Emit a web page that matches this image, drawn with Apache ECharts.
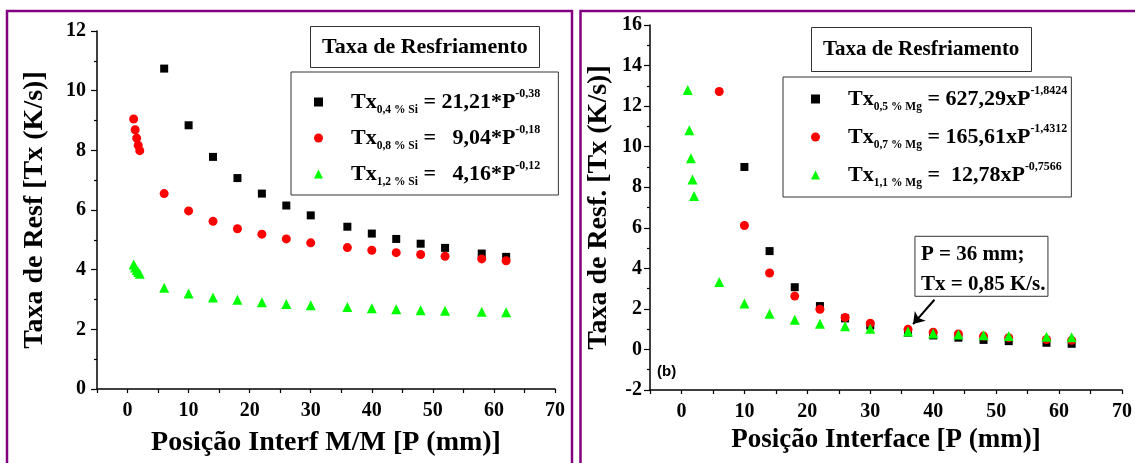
<!DOCTYPE html>
<html>
<head>
<meta charset="utf-8">
<script src="https://cdn.jsdelivr.net/npm/echarts@6/dist/echarts.min.js"></script>
<style>
    html, body { margin: 0; padding: 0; background: #fff; }
    #mainChart { width: 1135px; height: 463px; }
</style>
</head>
<body>
<div id="mainChart"></div>
<script>
// ---- painel (a): ligas Al-Si ----
var xSi04 = [6, 10, 14, 18, 22, 26, 30, 36, 40, 44, 48, 52, 58, 62];
var ySi04 = [10.74, 8.84, 7.78, 7.07, 6.55, 6.15, 5.82, 5.44, 5.21, 5.03, 4.87, 4.73, 4.54, 4.43];
var xSi08 = [1, 1.25, 1.5, 1.75, 2, 6, 10, 14, 18, 22, 26, 30, 36, 40, 44, 48, 52, 58, 62];
var ySi08 = [9.05, 8.69, 8.41, 8.17, 7.99, 6.55, 5.97, 5.62, 5.37, 5.19, 5.03, 4.90, 4.74, 4.65, 4.57, 4.51, 4.45, 4.36, 4.30];
var xSi12 = [1, 1.25, 1.5, 1.75, 2, 6, 10, 14, 18, 22, 26, 30, 36, 40, 44, 48, 52, 58, 62];
var ySi12 = [4.17, 4.07, 3.99, 3.92, 3.86, 3.39, 3.20, 3.07, 2.99, 2.91, 2.85, 2.81, 2.75, 2.71, 2.67, 2.64, 2.62, 2.59, 2.57];

// ---- painel (b): ligas Al-Mg ----
var xMg05 = [10, 14, 18, 22, 26, 30, 36, 40, 44, 48, 52, 58, 62];
var yMg05 = [9.0, 4.85, 3.07, 2.14, 1.53, 1.18, 0.83, 0.69, 0.58, 0.47, 0.41, 0.33, 0.28];
var xMg07 = [6, 10, 14, 18, 22, 26, 30, 36, 40, 44, 48, 52, 58, 62];
var yMg07 = [12.72, 6.11, 3.77, 2.63, 1.98, 1.58, 1.29, 0.99, 0.85, 0.76, 0.66, 0.58, 0.49, 0.45];
var xMg11 = [1, 1.25, 1.5, 1.75, 2, 6, 10, 14, 18, 22, 26, 30, 36, 40, 44, 48, 52, 58, 62];
var yMg11 = [12.79, 10.81, 9.43, 8.38, 7.57, 3.32, 2.26, 1.76, 1.47, 1.27, 1.14, 1.02, 0.89, 0.79, 0.74, 0.70, 0.66, 0.62, 0.60];

// legendas (equações)
var namesSi = ['Tx 0,4 % Si', 'Tx 0,8 % Si', 'Tx 1,2 % Si'];
var subSi = ['0,4 % Si', '0,8 % Si', '1,2 % Si'];
var eqSi = [' = 21,21*P', ' =   9,04*P', ' =   4,16*P'];
var expSi = ['-0,38', '-0,18', '-0,12'];
var namesMg = ['Tx 0,5 % Mg', 'Tx 0,7 % Mg', 'Tx 1,1 % Mg'];
var subMg = ['0,5 % Mg', '0,7 % Mg', '1,1 % Mg'];
var eqMg = [' = 627,29xP', ' = 165,61xP', ' =  12,78xP'];
var expMg = ['-1,8424', '-1,4312', '-0,7566'];
var annotLines = ['P = 36 mm;', 'Tx = 0,85 K/s.'];

var serif = "'Liberation Serif', 'Times New Roman', serif";

function pairs(xs, ys) {
    return xs.map(function (x, i) { return [x, ys[i]]; });
}

function eqFormatter(names, subs, eqs, exps) {
    return function (name) {
        var i = names.indexOf(name);
        return '{gap|}{t|Tx}{sub|' + subs[i] + '}{t|' + eqs[i] + '}{sup|' + exps[i] + '}';
    };
}

var eqRich = {
    gap: { width: 23 },
    t: { fontFamily: serif, fontWeight: 'bold', fontSize: 22, color: '#000', lineHeight: 28 },
    sub: { fontFamily: serif, fontWeight: 'bold', fontSize: 11.5, color: '#000', lineHeight: 12, verticalAlign: 'bottom' },
    sup: { fontFamily: serif, fontWeight: 'bold', fontSize: 12, color: '#000', lineHeight: 12, verticalAlign: 'top' }
};

function xAxisOf(idx, name, gap, nameSize) {
    return {
        type: 'value', gridIndex: idx, min: -5, max: 70, interval: 5,
        name: name, nameLocation: 'middle', nameGap: gap,
        nameTextStyle: { fontFamily: serif, fontWeight: 'bold', fontSize: nameSize, color: '#000' },
        splitLine: { show: false },
        axisLine: { onZero: false, lineStyle: { color: '#000', width: 1.5 } },
        axisTick: { length: 4, lineStyle: { color: '#000', width: 1.2 } },
        axisLabel: {
            margin: 12, fontFamily: serif, fontWeight: 'bold', fontSize: 20, color: '#000',
            formatter: function (v) { return v % 10 === 0 ? String(v) : ''; }
        }
    };
}

function yAxisOf(idx, name, gap, min, max, margin) {
    return {
        type: 'value', gridIndex: idx, min: min, max: max, interval: 2,
        name: name, nameLocation: 'middle', nameGap: gap,
        nameTextStyle: { fontFamily: serif, fontWeight: 'bold', fontSize: 28, color: '#000' },
        splitLine: { show: false },
        axisLine: { onZero: false, lineStyle: { color: '#000', width: 1.5 } },
        axisTick: { length: 6, lineStyle: { color: '#000', width: 1.2 } },
        minorTick: { show: true, splitNumber: 2, length: 3, lineStyle: { color: '#000', width: 1.2 } },
        axisLabel: { margin: margin, fontFamily: serif, fontWeight: 'bold', fontSize: 20, color: '#000' }
    };
}

function scatter(name, idx, data, symbol, size, color) {
    return {
        name: name, type: 'scatter', xAxisIndex: idx, yAxisIndex: idx,
        data: data, symbol: symbol, symbolSize: size,
        itemStyle: { color: color, opacity: 1 }
    };
}

var myChart = echarts.init(document.getElementById('mainChart'));

var option = {
    backgroundColor: '#fff',
    animation: false,
    title: [
        {
            text: 'Taxa de Resfriamento', left: 310, top: 26,
            borderColor: '#333', borderWidth: 1, padding: [10, 12, 10, 12],
            textStyle: { fontFamily: serif, fontWeight: 'bold', fontSize: 22, color: '#000' }
        },
        {
            text: 'Taxa de Resfriamento', left: 811, top: 27,
            borderColor: '#333', borderWidth: 1, padding: [12, 12, 12, 12],
            textStyle: { fontFamily: serif, fontWeight: 'bold', fontSize: 21, color: '#000' }
        }
    ],
    legend: [
        {
            data: namesSi, orient: 'vertical', left: 291, top: 72,
            padding: [16, 18, 7, 23], itemGap: 8, itemWidth: 9, itemHeight: 9,
            borderColor: '#333', borderWidth: 1, selectedMode: false,
            formatter: eqFormatter(namesSi, subSi, eqSi, expSi),
            textStyle: { rich: eqRich }
        },
        {
            data: namesMg, orient: 'vertical', left: 783, top: 77,
            padding: [8, 4, 8, 28], itemGap: 10, itemWidth: 9, itemHeight: 9,
            borderColor: '#333', borderWidth: 1, selectedMode: false,
            formatter: eqFormatter(namesMg, subMg, eqMg, expMg),
            textStyle: { rich: eqRich }
        }
    ],
    grid: [
        { left: 97, top: 31, width: 458, height: 358 },
        { left: 650, top: 25, width: 479, height: 365 }
    ],
    xAxis: [
        xAxisOf(0, 'Posição Interf M/M [P (mm)]', 40, 28),
        xAxisOf(1, 'Posição Interface [P (mm)]', 37, 27)
    ],
    yAxis: [
        yAxisOf(0, 'Taxa de Resf [Tx (K/s)]', 48, 0, 12, 11),
        yAxisOf(1, 'Taxa de Resf. [Tx (K/s)]', 37, -2, 16, 8)
    ],
    series: [
        scatter(namesSi[0], 0, pairs(xSi04, ySi04), 'rect', 8, '#000000'),
        scatter(namesSi[1], 0, pairs(xSi08, ySi08), 'circle', 9, '#ff0000'),
        scatter(namesSi[2], 0, pairs(xSi12, ySi12), 'triangle', 10, '#00ff00'),
        scatter(namesMg[0], 1, pairs(xMg05, yMg05), 'rect', 8, '#000000'),
        scatter(namesMg[1], 1, pairs(xMg07, yMg07), 'circle', 9, '#ff0000'),
        Object.assign(scatter(namesMg[2], 1, pairs(xMg11, yMg11), 'triangle', 10, '#00ff00'), {
            markLine: {
                silent: true, symbol: ['none', 'arrow'], symbolSize: 11,
                label: { show: false },
                lineStyle: { color: '#000', width: 2, type: 'solid' },
                data: [[{ coord: [40.2, 2.45] }, { coord: [36.8, 1.25] }]]
            }
        })
    ]
};
myChart.setOption(option);

// molduras roxas, rótulo (b) e caixa de anotação
var boxAt = myChart.convertToPixel({ gridIndex: 1 }, [37.1, 5.58]);
myChart.setOption({
    graphic: [
        { type: 'rect', z: -1, shape: { x: 7, y: 11, width: 565, height: 480 },
          style: { fill: 'none', stroke: '#800080', lineWidth: 2.5 } },
        { type: 'rect', z: -1, shape: { x: 580.5, y: 11, width: 600, height: 480 },
          style: { fill: 'none', stroke: '#800080', lineWidth: 2.5 } },
        { type: 'text', left: 657, top: 364,
          style: { text: '(b)', font: "bold 15px 'Liberation Sans', Arial, sans-serif", fill: '#000' } },
        {
            type: 'group', x: boxAt[0], y: boxAt[1],
            children: [
                { type: 'rect', shape: { x: 0, y: 0, width: 133, height: 60 },
                  style: { fill: '#fff', stroke: '#333', lineWidth: 1 } },
                { type: 'text', x: 6, y: 3,
                  style: { text: annotLines.join('\n'), font: 'bold 21px ' + serif, lineHeight: 30, fill: '#000' } }
            ]
        }
    ]
});

window.onresize = function () {
    myChart.resize();
};
</script>
</body>
</html>
